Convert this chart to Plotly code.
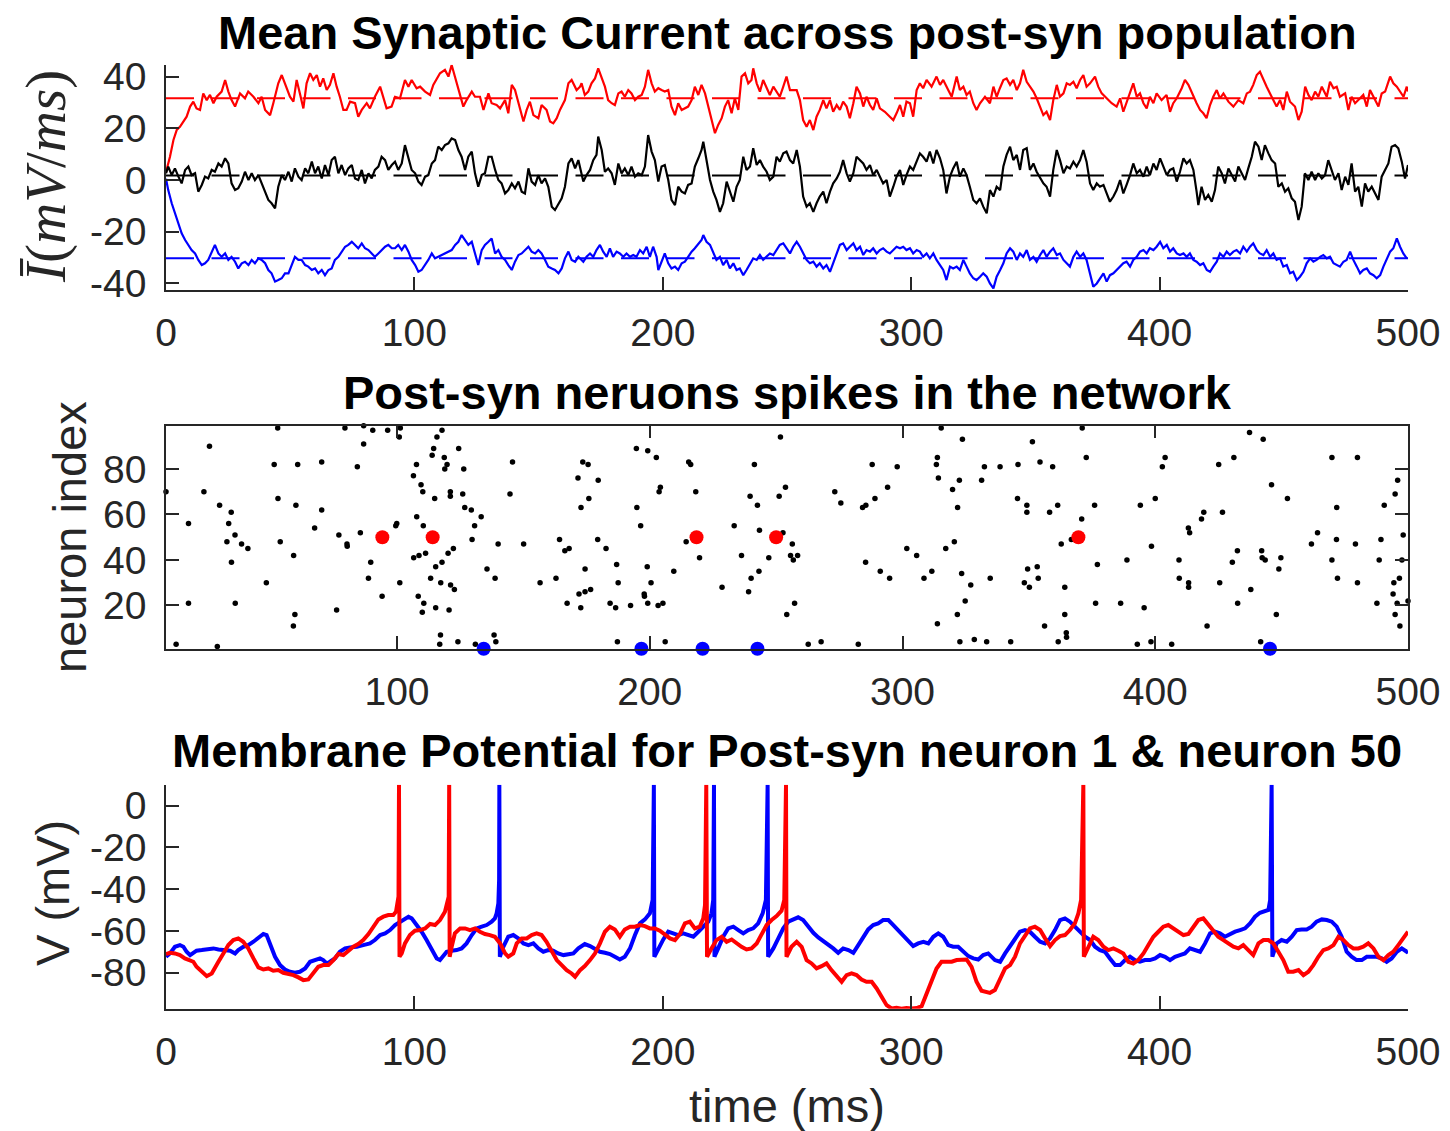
import plotly.graph_objects as go

# ---------------- top panel: mean synaptic current (mV/ms) ----------------
red_t = [0, 1.6, 3.0, 4.3, 5.6, 7.0, 8.3, 9.7, 11.0, 12.3, 13.7, 15.0, 16.4, 17.7, 19.1, 20.4, 22.4, 23.8, 25.1, 26.4,
         27.8, 29.8, 31.8, 33.1, 35.2, 37.2, 38.5, 39.9, 41.9, 43.2, 45.2, 46.6, 47.9, 49.9, 51.3, 52.6, 53.9, 55.3, 56.6, 58.0,
         59.3, 60.7, 62.0, 63.3, 64.7, 66.0, 67.4, 68.7, 70.0, 71.4, 72.7, 74.1, 76.1, 77.4, 78.8, 80.8, 82.1, 84.1, 86.2, 87.5,
         88.8, 90.8, 92.2, 94.2, 96.2, 97.6, 98.9, 100.9, 102.3, 104.3, 106.3, 107.6, 109.0, 110.3, 112.3, 113.7, 115.0, 116.3, 117.7, 119.7,
         121.0, 123.1, 124.4, 126.4, 127.8, 129.8, 131.1, 133.1, 134.5, 136.5, 137.8, 139.2, 140.5, 141.8, 143.9, 145.2, 146.5, 147.9, 149.9, 151.2,
         153.2, 154.6, 155.9, 157.3, 158.6, 160.6, 162.0, 163.3, 165.3, 166.7,
         167.3, 168.6, 170.0, 171.3, 172.7, 174.0, 175.4, 176.7, 178.0, 179.4, 180.7, 182.1, 183.4, 184.7, 186.1, 187.4, 188.8, 190.1, 191.5, 192.8,
         194.1, 195.5, 196.8, 198.2, 199.5, 200.8, 202.2, 203.5, 204.9, 206.2, 207.6, 208.9, 210.2, 211.6, 212.9, 214.3, 215.6, 217.0, 218.3, 219.6,
         221.0, 222.3, 223.7, 225.0, 226.3, 227.7, 229.0, 230.4, 231.7, 233.1, 234.4, 235.7, 236.4, 237.8, 239.1, 240.4, 241.8, 243.1, 244.5, 245.8,
         247.1, 248.5, 249.8, 251.2, 252.5, 253.9, 255.2, 256.5, 257.9, 259.2, 260.6, 261.9, 263.2, 264.6, 265.9, 267.3, 268.6, 270.0, 271.3, 272.6,
         274.0, 275.3, 276.7, 278.0, 279.4, 280.7, 282.0, 283.4, 284.7, 286.1, 287.4, 289.4, 291.4, 292.8, 294.1, 295.5, 296.8, 298.1, 299.5, 300.8,
         302.2, 303.5, 304.8, 306.2, 308.2, 310.2, 311.6, 312.9, 314.9, 316.3, 318.3, 319.6, 321.0, 322.3, 323.6, 325.0, 326.3, 327.7, 329.7, 331.7,
         333.1, 334.4, 335.7, 337.1, 338.4, 339.8, 341.1, 342.5, 343.8, 345.1, 346.5, 347.8, 349.2, 350.5, 351.9, 353.2, 354.5, 355.9, 357.2, 358.6,
         359.9, 361.3, 362.6, 363.9, 365.3, 366.6, 368.0, 369.3, 370.6, 372.0, 374.0, 375.3, 376.7, 378.7, 380.7, 382.7, 384.1, 385.4, 387.4, 389.4,
         390.8, 392.1, 393.5, 394.8, 396.1, 397.5, 398.8, 400.8, 402.8, 404.2, 405.5, 406.9, 408.9, 410.2, 411.6, 413.6, 414.9, 416.3, 417.6, 418.9,
         420.3, 421.6, 423.0, 424.3, 425.7, 427.7, 429.7, 431.7, 433.7, 435.1, 436.4, 437.7, 439.1, 440.4, 441.8, 443.1, 445.1, 447.1, 448.5, 449.8,
         451.2, 452.5, 454.5, 455.9, 457.2, 458.6, 459.9, 461.2, 462.6, 463.9, 465.3, 467.3, 468.6, 470.0, 471.3, 472.6, 474.7, 476.0, 477.3, 478.7,
         480.7, 482.0, 483.4, 484.7, 486.1, 488.1, 489.4, 490.8, 492.8, 494.1, 495.5, 496.8, 498.2, 499.5, 500.0]
red_v = [3, 9.0, 15.5, 19.3, 20.6, 22.6, 24.5, 28.4, 30.3, 27.7, 27.1, 33.5, 30.9, 32.9, 29.7, 32.2, 34.2, 38.7, 34.2, 30.9,
         28.4, 33.5, 31.6, 34.2, 32.2, 29.7, 32.2, 27.1, 25.1, 29.7, 37.4, 40.6, 37.4, 32.2, 30.3, 38.7, 33.5, 27.7, 37.4, 41.3,
         38.7, 40.6, 36.1, 39.3, 34.8, 36.8, 41.3, 36.1, 32.2, 27.1, 27.1, 30.3, 29.7, 24.5, 27.1, 29.7, 27.7, 32.2, 36.1, 32.2,
         27.7, 28.4, 32.2, 31.6, 38.7, 36.1, 38.7, 35.5, 36.1, 34.2, 32.9, 36.8, 39.3, 41.3, 42.6, 40.0, 44.5, 40.0, 34.8, 28.4,
         30.9, 34.2, 32.2, 32.2, 27.1, 33.5, 29.7, 29.0, 27.7, 30.9, 25.8, 36.8, 34.8, 29.7, 22.6, 27.1, 30.3, 25.1, 23.9, 29.0,
         27.1, 22.6, 21.9, 23.9, 27.1, 30.9, 37.4, 38.7, 34.8, 36.1,
         37.4, 32.9, 34.2, 37.4, 39.3, 43.2, 39.3, 36.1, 30.9, 29.7, 29.0, 33.5, 34.2, 32.2, 34.8, 33.5, 30.9, 32.2, 32.9, 36.1,
         42.6, 37.4, 34.2, 35.5, 34.8, 34.2, 34.8, 28.4, 25.1, 29.7, 27.1, 27.7, 28.4, 30.9, 36.1, 32.9, 36.8, 33.5, 28.4, 24.5,
         18.1, 21.3, 23.9, 28.4, 30.9, 25.8, 31.6, 27.1, 40.0, 41.3, 37.4, 38.7, 43.2, 37.4, 34.2, 38.7, 35.5, 32.9, 36.1, 34.2,
         32.2, 36.1, 40.0, 34.8, 34.8, 34.8, 30.9, 23.2, 20.6, 23.2, 19.3, 24.5, 27.1, 30.9, 27.7, 30.9, 26.4, 29.0, 27.1, 30.3,
         28.4, 23.9, 29.7, 36.1, 33.5, 28.4, 32.2, 29.0, 27.1, 31.6, 27.7, 26.4, 24.5, 23.2, 25.8, 29.0, 24.5, 30.3, 29.7, 24.5,
         34.8, 37.4, 35.5, 38.7, 36.1, 40.0, 36.8, 38.7, 34.8, 32.2, 40.0, 34.8, 36.1, 32.9, 34.2, 29.7, 27.1, 29.7, 32.2, 29.7,
         36.1, 32.2, 35.5, 38.7, 39.3, 36.8, 38.7, 34.8, 37.4, 42.6, 38.0, 36.1, 34.2, 31.6, 28.4, 25.1, 26.4, 23.2, 30.9, 36.8,
         32.2, 33.5, 37.4, 36.8, 38.0, 35.5, 38.7, 40.6, 36.1, 37.4, 40.0, 36.1, 33.5, 31.6, 29.7, 28.4, 31.6, 26.4, 32.2, 37.4,
         32.2, 33.5, 29.7, 27.7, 32.2, 29.7, 33.5, 30.9, 32.9, 26.4, 29.7, 31.6, 35.5, 38.7, 36.8, 32.2, 29.7, 27.1, 25.8, 23.9,
         29.0, 32.2, 34.8, 31.6, 33.5, 30.3, 28.4, 30.9, 29.7, 33.5, 34.2, 36.8, 40.6, 41.9, 38.7, 36.1, 32.2, 28.4, 30.9, 27.1,
         34.2, 30.3, 28.4, 23.2, 26.4, 36.1, 32.9, 30.9, 34.2, 32.2, 36.1, 32.2, 38.0, 35.5, 36.1, 32.2, 33.5, 27.1, 32.2, 29.7,
         31.6, 32.9, 28.4, 34.8, 32.2, 28.4, 33.5, 34.2, 40.0, 37.4, 36.1, 34.2, 32.2, 36.1, 34.2]

black_t = [0, 0.9, 2.3, 3.6, 5.0, 6.3, 7.7, 9.0, 10.3, 11.7, 13.0, 14.4, 15.7, 17.0, 18.4, 19.7, 21.1, 22.4, 23.8, 25.1,
           26.4, 27.8, 29.1, 30.5, 31.8, 33.2, 34.5, 35.8, 37.2, 38.5, 39.9, 41.2, 42.5, 43.9, 45.2, 46.6, 47.9, 49.3, 50.6, 51.9,
           53.3, 54.6, 56.0, 57.3, 58.7, 60.0, 61.3, 62.7, 64.0, 65.4, 66.7, 68.0, 69.4, 70.7, 72.1, 73.4, 74.8, 76.1, 77.4, 78.8,
           80.1, 81.5, 82.8, 84.1, 85.5, 86.8, 88.2, 89.5, 90.9, 92.2, 93.5, 94.9, 96.2, 97.6, 98.9, 100.3, 101.6, 102.9, 104.3, 105.6,
           107.0, 108.3, 109.6, 111.0, 112.3, 113.7, 115.0, 116.4, 117.7, 119.0, 120.4, 121.7, 123.1, 124.4, 125.7, 127.1, 128.4, 129.8, 131.1, 132.5,
           133.8, 135.1, 136.5, 137.8, 139.2, 140.5, 141.9, 143.2, 144.5, 145.9, 147.2, 148.6, 149.9, 151.2, 152.6, 153.9, 155.3, 156.6, 158.0, 159.3,
           160.6, 162.0, 163.3, 164.7, 166.0,
           168.0, 169.3, 170.7, 172.0, 173.3, 174.0, 175.4, 176.7, 178.0, 179.4, 180.7, 182.1, 183.4, 184.7, 186.1, 187.4, 188.8, 190.1, 191.5, 192.8,
           194.1, 195.5, 196.8, 198.2, 199.5, 200.8, 202.2, 203.5, 204.9, 206.2, 207.6, 208.9, 210.2, 211.6, 212.9, 214.3, 215.6,
           216.3, 217.6, 219.0, 220.3, 221.6, 223.0, 224.3, 225.7, 227.0, 228.4, 229.7, 231.0, 232.4, 233.7, 235.1, 236.4, 237.8, 239.1, 240.4, 241.8,
           243.1, 244.5, 245.8, 247.1, 248.5, 249.8, 251.2, 252.5, 253.9, 255.2, 256.5, 257.9, 259.2, 260.6, 261.9, 263.2, 264.6, 265.9, 267.3, 268.6,
           270.0, 271.3, 272.6, 274.0, 275.3, 276.7, 278.0, 279.4, 280.7, 282.0, 283.4, 284.7, 286.1, 287.4, 288.7, 290.1, 291.4, 292.8, 294.1, 295.5,
           296.8, 298.1, 299.5, 300.8, 302.2, 303.5, 304.8, 306.2, 307.5, 308.9, 310.2, 311.6, 312.9, 314.2, 315.6, 316.9, 318.3, 319.6, 321.0, 322.3,
           323.6, 325.0, 326.3, 327.7, 329.0,
           330.4, 331.7, 333.1, 334.4, 335.8, 337.1, 338.4, 339.8, 341.1, 342.5, 343.8, 345.1, 346.5, 347.8, 349.2, 350.5, 351.9, 353.2, 354.5, 355.9,
           357.2, 358.6, 359.9, 361.3, 362.6, 363.9, 365.3, 366.6, 368.0, 369.3, 370.6, 372.0, 373.3, 374.7, 376.0, 377.4, 378.7, 380.0, 381.4, 382.7,
           384.1, 385.4, 386.7, 388.1, 389.4, 390.8, 392.1, 393.5, 394.8, 396.1, 397.5, 398.8, 400.2, 401.5, 402.9, 404.2, 405.5, 406.9, 408.2, 409.6,
           410.9, 412.2, 413.6, 414.9,
           415.6, 416.9, 418.3, 419.6, 421.0, 422.3, 423.6, 425.0, 426.3, 427.7, 429.0, 430.4, 431.7, 433.0, 434.4, 435.7, 437.1, 438.4, 439.8, 441.1,
           442.4, 443.8, 445.1, 446.5, 447.8, 449.2, 450.5, 451.8, 453.2, 454.5, 455.9, 457.2, 458.5, 459.9, 461.2, 462.6, 463.9, 465.3, 466.6, 467.9,
           469.3, 470.6, 472.0, 473.3, 474.7, 476.0, 477.3, 478.7, 480.0, 481.4, 482.7, 484.0, 485.4, 486.7, 488.1, 489.4, 490.8, 492.1, 493.4, 494.8,
           496.1, 497.5, 498.8, 500.0]
black_v = [2.6, 5.2, 1.9, 4.5, 1.3, -1.3, 3.9, 5.2, 1.9, 2.6, -4.5, -1.9, 1.3, 0.6, 3.9, 3.2, 6.4, 5.2, 8.4, 6.4,
           -1.3, -3.9, -3.2, -0.6, 3.2, 0, 2.6, 0, 1.9, -1.3, -4.5, -7.7, -9.0, -11.0, -2.6, 1.9, 0, 3.2, -0.6, 4.5,
           1.3, 0, 4.5, 2.6, 7.1, 2.6, 5.2, 0.6, 5.8, 1.9, 7.7, 9.0, 2.6, 5.8, 1.9, 4.5, 5.8, 0.6, 0, 3.9,
           -1.3, 2.6, 0.6, 3.9, 5.2, 9.0, 7.7, 3.9, 5.8, 7.1, 3.9, 6.4, 13.5, 9.0, 3.9, 2.6, -0.6, -1.9, 1.3, 1.9,
           6.4, 7.7, 12.9, 11.6, 13.5, 14.2, 16.1, 15.5, 11.6, 9.0, 3.9, 9.0, 11.0, 2.6, -2.6, 1.9, 2.6, 9.0, 9.0, 3.9,
           0, -1.3, -5.2, -3.9, -1.3, -3.2, -0.6, -4.5, -5.2, 4.5, -0.6, -1.9, 1.9, -1.3, 0.6, -2.6, -10.3, -11.6, -9.0, -7.1,
           -2.6, 6.4, 8.4, 4.5, 7.7,
           -0.6, 1.9, 3.9, 7.7, 9.7, 16.8, 11.6, 3.2, 4.5, 2.6, -1.9, 6.4, 2.6, 4.5, 1.9, 5.2, 1.3, 2.6, 1.9, 5.2,
           17.4, 11.0, 7.7, -0.6, 5.2, 5.8, 0, -7.7, -9.7, -2.6, -4.5, -5.2, -1.9, -1.3, 5.2, 8.4, 11.6,
           14.8, 7.7, 0, -4.5, -7.7, -12.3, -9.0, -0.6, -4.5, -8.4, -2.6, 0, 9.0, 3.9, 5.2, 12.3, 5.8, 7.7, 5.2, 3.2,
           0, 1.3, 9.0, 7.1, 10.3, 11.0, 7.7, 6.4, 11.6, 5.2, -6.4, -10.3, -9.0, -12.3, -9.0, -6.4, -4.5, -9.0, -4.5, -1.3,
           0.6, 3.2, 7.7, 2.6, -0.6, 2.6, 9.0, 7.7, 6.4, 3.9, 5.8, 1.9, 3.9, 1.3, -1.3, 0, -6.4, -2.6, 1.3, 3.9,
           -1.9, 1.9, 5.2, 3.9, 7.1, 10.3, 9.0, 7.1, 11.0, 6.4, 11.6, 8.4, 3.9, -5.2, 1.3, 4.5, 7.1, 1.3, 4.5, 1.9,
           -2.6, -7.7, -9.0, -7.1, -10.3,
           -12.9, -3.9, -6.4, -2.6, -3.9, 5.2, 9.7, 12.9, 7.7, 9.7, 3.9, 11.6, 12.3, 3.9, 6.4, 3.2, 0.6, -1.3, -2.6, -6.4,
           3.9, 11.6, 7.7, 2.6, 5.2, 4.5, 7.1, 5.2, 7.7, 11.6, 7.1, -1.3, -3.9, -1.3, -2.6, -1.9, -5.2, -8.4, -6.4, -3.9,
           0, -5.2, -1.9, 1.9, 6.4, 2.6, 3.9, 1.3, 5.2, 1.9, 6.4, 3.9, 8.4, 5.2, 1.9, 3.9, 4.5, -0.6, 3.2, 8.4,
           6.4, 7.7, 3.9, -4.5,
           -9.7, -2.6, -7.7, -5.8, -8.4, -3.9, 5.2, 2.6, -1.3, 4.5, 1.9, -0.6, 5.2, 2.6, 0, 4.5, 9.0, 14.8, 12.9, 7.7,
           13.5, 10.3, 7.7, 6.4, -2.6, -1.3, -4.5, -3.2, -7.1, -8.4, -15.5, -10.3, 2.6, 0, 3.2, 0, 2.6, 0.6, 1.9, 7.7,
           3.9, 0, 2.6, -3.9, 1.3, -1.9, 6.4, -4.5, -2.6, -10.3, -1.3, -4.5, -2.6, -5.2, -7.7, 1.3, 3.9, 6.4, 12.9, 13.5,
           12.3, 7.1, 0.6, 5.8]

blue_t = [0, 0.9, 2.3, 3.6, 5.0, 6.3, 7.7, 9.0, 10.3, 11.7, 13.0, 14.4, 15.7, 17.0, 18.4, 19.7, 21.1, 22.4, 23.8, 25.1,
          26.4, 27.8, 29.1, 30.5, 31.8, 33.2, 34.5, 35.8, 37.2, 38.5, 39.9, 41.2, 42.5, 43.9, 45.2, 46.6, 47.9, 49.3, 50.6, 51.9,
          53.3, 54.6, 56.0, 57.3, 58.7, 60.0, 61.3, 62.7, 64.0, 65.4, 66.7, 68.0, 69.4, 70.7, 72.1, 73.4, 74.8, 76.1, 77.4, 78.8,
          80.1, 81.5, 82.8, 84.1, 85.5, 86.8, 88.2, 89.5, 90.9, 92.2, 93.5, 94.9, 96.2, 97.6, 98.9, 100.3, 101.6, 102.9, 104.3, 105.6,
          107.0, 108.3, 109.6, 111.0, 112.3, 113.7, 115.0, 116.4, 117.7, 119.0, 120.4, 121.7, 123.1, 124.4, 125.7, 127.1, 128.4, 129.8, 131.1, 132.5,
          133.8, 135.1, 136.5, 137.8, 139.2, 140.5, 141.9, 143.2, 144.5, 145.9, 147.2, 148.6, 149.9, 151.2, 152.6, 153.9, 155.3, 156.6, 158.0, 159.3,
          160.6, 162.0, 163.3, 164.7, 166.0,
          168.0, 169.3, 170.7, 172.0, 173.3, 174.7, 176.0, 177.4, 178.7, 180.0, 181.4, 182.7, 184.1, 185.4, 186.8, 188.1, 189.4, 190.8, 192.1, 193.5,
          194.8, 196.1, 197.5,
          198.2, 199.5, 200.8, 202.2, 203.5, 204.9, 206.2, 207.6, 208.9, 210.2, 211.6, 212.9, 214.3, 215.6, 216.3,
          217.6, 219.0, 220.3, 221.6, 223.0, 224.3, 225.7, 227.0, 228.4, 229.7, 231.0, 232.4, 233.7, 235.1, 236.4, 237.8, 239.1, 240.4, 241.8,
          243.1, 244.5, 245.8, 247.1, 248.5, 249.8, 251.2, 252.5, 253.9, 255.2, 256.5, 257.9, 259.2, 260.6, 261.9, 263.2, 264.6, 265.9, 267.3, 268.6,
          270.0, 271.3, 272.6, 274.0, 275.3, 276.7, 278.0, 279.4, 280.7, 282.0, 283.4, 284.7, 286.1, 287.4, 288.7, 290.1, 291.4, 292.8, 294.1, 295.5,
          296.8, 298.1, 299.5, 300.8, 302.2, 303.5, 304.8, 306.2, 307.5, 308.9, 310.2, 311.6, 312.9, 314.2, 315.6, 316.9, 318.3, 319.6, 321.0, 322.3,
          323.6, 325.0, 326.3, 327.7, 329.0,
          330.4, 331.7, 333.1, 334.4, 335.8, 337.1, 338.4, 339.8, 341.1, 342.5, 343.8, 345.1, 346.5, 347.8, 349.2, 350.5, 351.9, 353.2, 354.5, 355.9,
          357.2, 358.6, 359.9, 361.3, 362.6, 363.9, 365.3, 366.6, 368.0, 369.3, 370.6, 372.0, 373.3, 374.7, 376.0, 377.4, 378.7, 380.0, 381.4, 382.7,
          384.1, 385.4, 386.7, 388.1, 389.4, 390.8, 392.1, 393.5, 394.8, 396.1, 397.5, 398.8, 400.2, 401.5, 402.9, 404.2, 405.5, 406.9, 408.2, 409.6,
          410.9, 412.2, 413.6, 414.9,
          416.3, 417.6, 419.0, 420.3, 421.6, 423.0, 424.3, 425.7, 427.0, 428.3, 429.7, 431.0, 432.4, 433.7, 435.1, 436.4, 437.7, 439.1, 440.4, 441.8,
          443.1, 444.5, 445.8, 447.1, 448.5, 449.8, 451.2, 452.5, 453.8, 455.2, 456.5, 457.9, 459.2, 460.6, 461.9, 463.2, 464.6, 465.9, 467.3, 468.6,
          470.0, 471.3, 472.6, 474.0, 475.3, 476.7, 478.0, 479.4, 480.7, 482.0, 483.4, 484.7, 486.1, 487.4, 488.8, 490.1, 491.4, 492.8, 494.1, 495.5,
          496.8, 498.1, 499.5]
blue_v = [0.5, -3.9, -9.0, -12.9, -16.8, -20.6, -23.2, -25.1, -27.1, -28.4, -30.9, -32.9, -32.2, -30.9, -27.7, -25.1, -28.4, -29.7, -28.4, -30.9,
          -29.7, -31.6, -34.2, -32.2, -31.6, -32.9, -30.9, -32.2, -30.3, -30.9, -32.2, -34.8, -36.1, -39.3, -38.7, -38.0, -36.1, -36.1, -32.9, -29.7,
          -30.9, -30.9, -32.9, -33.5, -34.8, -34.2, -36.1, -34.8, -36.8, -34.8, -34.2, -30.9, -29.7, -27.7, -25.8, -25.1, -23.9, -25.1, -26.4, -24.5,
          -26.4, -27.1, -28.4, -29.7, -28.4, -27.1, -25.8, -25.1, -26.4, -26.4, -25.1, -27.1, -25.1, -27.7, -30.9, -32.9, -35.5, -34.8, -32.9, -30.9,
          -28.4, -30.3, -29.7, -29.0, -28.4, -27.7, -27.1, -25.1, -23.9, -21.3, -23.2, -25.1, -23.9, -29.0, -32.9, -27.1, -25.1, -23.9, -22.6, -28.4,
          -27.1, -29.7, -30.9, -32.9, -34.8, -31.6, -29.0, -28.4, -27.1, -25.8, -27.7, -28.4, -27.1, -28.4, -30.9, -33.5, -34.2, -34.8, -36.1, -34.2,
          -30.3, -27.7, -30.9, -31.6, -29.7,
          -31.6, -29.7, -28.4, -29.7, -27.1, -25.1, -27.7, -29.7, -26.4, -29.7, -27.7, -28.4, -29.7, -28.4, -29.7, -29.0, -29.7, -27.1, -28.4, -25.8,
          -29.7, -25.8, -29.7,
          -34.8, -31.6, -28.4, -32.2, -34.2, -33.5, -34.8, -32.2, -31.6, -29.7, -27.7, -26.4, -24.5, -23.2, -21.3,
          -23.9, -25.1, -28.4, -30.9, -29.7, -32.9, -30.9, -34.2, -32.2, -34.8, -34.2, -36.8, -34.8, -32.2, -30.3, -30.9, -29.0, -30.9, -29.7,
          -28.4, -29.0, -27.1, -25.1, -24.5, -26.4, -28.4, -25.8, -23.9, -25.8, -28.4, -30.9, -32.2, -31.6, -33.5, -32.2, -34.2, -32.9, -35.5, -32.2,
          -28.4, -25.1, -24.5, -27.1, -25.8, -24.5, -27.1, -25.8, -29.0, -27.1, -27.7, -26.4, -28.4, -27.1, -26.4, -27.7, -28.4, -27.1, -25.8, -26.4,
          -25.8, -27.1, -26.4, -28.4, -27.1, -27.7, -29.7, -28.4, -30.3, -28.4, -30.9, -32.9, -34.8, -38.7, -33.5, -34.2, -33.5, -34.8, -30.9, -33.5,
          -36.1, -38.0, -38.7, -37.4, -36.1,
          -37.4, -40.0, -41.9, -37.4, -34.8, -32.2, -28.4, -26.4, -27.7, -30.9, -28.4, -29.7, -27.1, -30.9, -29.7, -31.6, -29.0, -27.1, -29.7, -27.7,
          -26.4, -29.0, -28.4, -30.9, -32.2, -33.5, -29.7, -27.7, -29.7, -28.4, -30.9, -36.1, -41.3, -40.0, -38.0, -36.1, -39.3, -36.8, -36.1, -34.8,
          -33.5, -32.2, -31.6, -33.5, -30.9, -29.7, -27.7, -27.1, -28.4, -26.4, -27.1, -25.8, -23.9, -26.4, -25.1, -27.7, -26.4, -28.4, -29.0, -28.4,
          -29.7, -28.4, -30.9, -31.6,
          -32.9, -32.2, -34.8, -35.5, -33.5, -31.6, -28.4, -29.7, -27.7, -29.0, -27.7, -27.1, -28.4, -25.8, -27.7, -25.8, -24.5, -27.1, -28.4, -29.0,
          -27.1, -29.7, -28.4, -30.9, -30.3, -33.5, -32.9, -36.1, -35.5, -38.7, -37.4, -35.5, -32.2, -30.3, -31.6, -30.9, -29.7, -29.0, -30.3, -29.7,
          -32.2, -32.9, -33.5, -31.6, -30.9, -27.7, -30.9, -33.5, -36.1, -34.8, -34.2, -36.1, -36.8, -38.0, -36.8, -33.5, -30.9, -27.7, -26.4, -22.6,
          -25.8, -28.4, -30.3]

mean_levels = [31.6, 1.7, -30.3]          # red, black, blue dashed references
mean_colors = ["#ff0000", "#000000", "#0000ff"]

# ---------------- middle panel: raster of post-syn spikes ----------------
spike_t = [8.6, 12.6, 17.5, 17.5, 23.6, 25.8, 28.9, 29.8, 32.7, 33.4, 34.4, 34.5, 35.9, 36.0, 38.5, 41.0, 48.3, 51.4, 52.8, 52.9,
           53.8, 59.0, 59.1, 59.6, 60.0, 60.7, 67.4, 70.2, 70.2, 76.1, 77.0, 79.4, 80.2, 80.3, 84.3, 85.5, 86.8, 86.8, 88.7, 89.6,
           90.4, 94.1, 96.3, 99.5, 99.9, 100.9, 101.1, 101.3, 106.5, 106.6, 107.7, 107.8, 108.4, 108.7, 109.5, 110.0, 110.2, 110.4, 110.6, 111.3,
           113.3, 113.9, 114.5, 114.9, 115.3, 115.3, 115.8, 116.9, 117.2, 117.3, 117.8, 117.8, 118.7, 118.9, 119.8, 120.2, 120.6, 121.1, 121.1, 121.2,
           122.3, 122.7, 124.1, 124.4, 126.0, 126.4, 126.8, 129.4, 129.7, 130.7, 131.0, 133.3, 135.6, 138.4, 138.8, 139.1, 140.0, 144.7, 145.7, 150.1,
           156.6, 162.9, 164.3, 166.4, 167.3, 168.1,
           171.6, 172.0, 172.7, 172.8, 173.5, 174.4, 174.4, 175.6, 175.9, 176.6, 179.4, 179.6, 182.7, 184.3, 186.5, 186.9, 187.2, 187.5, 192.4, 194.7,
           194.9, 196.4, 197.8, 197.9, 199.0, 199.2, 199.2, 200.5, 202.6, 203.3, 203.7, 204.2, 205.2, 206.1, 209.5, 214.4, 215.4, 216.2, 218.2, 219.7,
           228.6, 233.4, 236.3, 239.1, 239.7, 240.1, 241.4, 242.6, 243.2, 243.4, 247.1, 251.2, 251.7, 252.7, 253.7, 254.2, 255.7, 256.4, 256.8, 257.3,
           258.5, 262.7, 267.8, 273.2, 275.6, 282.5, 284.2, 285.4, 285.5, 288.0, 289.1, 291.2, 294.1, 294.9, 297.9, 301.7, 305.6, 308.5, 311.6, 313.4,
           313.8, 313.8, 314.2, 315.3, 317.1, 319.8, 320.5, 321.7, 321.8, 322.5, 322.7, 323.4, 323.7, 324.8, 327.0, 328.4,
           331.3, 332.4, 333.3, 334.7, 338.6, 342.8, 345.5, 345.7, 348.2, 349.2, 349.2, 349.5, 350.2, 351.4, 353.3, 353.7, 354.4, 356.2, 358.2, 359.4,
           361.4, 361.6, 362.8, 364.2, 364.2, 364.8, 364.9, 366.8, 370.9, 371.1, 372.7, 376.0, 376.4, 377.1, 386.3, 388.8, 392.9, 394.1, 395.6, 398.3,
           398.5, 400.0, 402.8, 403.9, 406.5, 409.4, 409.5, 413.1, 413.2, 413.2, 413.6, 418.3, 419.2, 420.5, 425.1, 425.5, 426.6, 430.5, 431.1, 432.5,
           432.6, 437.3, 437.8, 441.7, 442.1, 442.3, 442.7, 443.5, 446.0, 447.9, 448.9, 449.7, 452.3, 461.8, 464.2, 469.9, 469.9, 471.7, 471.8, 472.1,
           479.2, 480.0, 480.0, 487.7, 488.6, 489.3, 490.6, 494.1, 494.4, 494.9, 494.9, 495.7, 495.9, 496.6, 496.8, 497.6, 498.1, 500.0]
spike_n = [70, 3, 56, 21, 70, 90, 2, 64, 48, 56, 61, 39, 51, 21, 47, 45, 30, 82, 98, 67,
           48, 11, 42, 16, 64, 82, 54, 83, 62, 18, 51, 98, 47, 46, 81, 52, 99, 91, 32, 39,
           97, 24, 97, 55, 56, 94, 30, 98, 77, 41, 82, 59, 24, 42, 73, 17, 70, 55, 21, 43,
           32, 86, 89, 67, 37, 19, 94, 3, 7, 30, 97, 39, 85, 80, 82, 43, 18, 70, 68, 29,
           45, 27, 4, 89, 69, 80, 63, 62, 49, 55, 3, 59, 36, 7, 32, 4, 47, 69, 83, 47,
           30, 32, 49, 44, 21, 45,
           76, 25, 19, 63, 83, 36, 26, 82, 67, 27, 49, 75, 45, 21, 19, 38, 4, 30, 20, 89,
           63, 55, 25, 24, 37, 21, 88, 30, 85, 20, 70, 72, 21, 4, 35, 48, 83, 82, 70, 41,
           28, 55, 42, 26, 68, 32, 82, 64, 35, 53, 41, 68, 94, 52, 72, 16, 42, 47, 40, 21,
           42, 3, 4, 70, 65, 3, 63, 39, 64, 82, 67, 35, 72, 32, 81, 45, 42, 32, 35, 82,
           85, 12, 76, 98, 45, 71, 48, 16, 63, 75, 4, 34, 93, 22, 29, 5,
           75, 81, 4, 32, 81, 4, 67, 82, 30, 64, 61, 36, 28, 92, 37, 32, 83, 11, 61, 81,
           64, 4, 47, 28, 16, 8, 6, 49, 58, 98, 85, 64, 21, 38, 21, 40, 3, 64, 19, 4,
           46, 67, 81, 85, 3, 40, 32, 54, 30, 28, 52, 58, 61, 11, 82, 30, 61, 39, 85, 44,
           21, 96, 27, 4, 44, 41, 93, 40, 73, 16, 36, 41, 67, 47, 52, 85, 40, 49, 63, 32,
           47, 85, 30, 21, 40, 49, 64, 25, 30, 16, 69, 21, 75, 32, 11, 40, 51, 22]

# highlighted neurons: 50 (red) and 1 (blue)
n50_spikes = [94.2, 114.1, 218.5, 250.0, 369.6]
n1_spikes = [134.3, 196.7, 220.9, 242.6, 445.4]

# ---------------- bottom panel: membrane potential (mV) ----------------
v1_t = [0, 1.6, 3.6, 5.6, 7.0, 8.3, 9.7, 11.0, 12.3, 14.4, 16.4, 19.1, 21.1, 23.1, 25.8, 27.8, 29.1, 31.1, 33.1, 35.2,
        37.2, 39.2, 40.5, 41.9, 43.9, 45.9, 47.9, 49.9, 51.9, 53.9, 56.0, 58.0, 60.0, 62.0, 63.3, 64.7, 66.0, 68.0, 70.0, 72.1,
        74.1, 76.8, 79.4, 82.1, 84.1, 86.2, 88.2, 90.2, 92.2, 94.2, 96.2, 97.6, 98.9, 100.9, 102.9, 104.9, 107.0, 109.0, 110.3, 111.6,
        113.0, 115.0, 117.0, 119.0, 121.0, 123.1, 125.1, 127.1, 129.1, 131.1, 132.4, 133.1, 133.8, 134.1, 134.2, 134.4, 135.8, 137.8, 139.8, 141.8,
        143.9, 145.9, 147.9, 149.9, 151.9, 153.9, 155.9, 157.9, 160.0, 162.0, 164.0, 166.0,
        168.6, 170.7, 172.7, 174.7, 176.7, 178.7, 180.7, 182.7, 184.7, 186.8, 188.8, 190.8, 192.8, 194.8, 195.9, 196.4, 196.6, 198.2, 200.2, 202.2,
        204.2, 206.2, 208.2, 210.2, 212.3, 214.3, 216.3, 218.3, 219.6, 220.3, 220.6, 220.8, 222.3, 224.3, 226.3, 228.4, 230.4, 232.4, 234.4, 236.4,
        238.4, 240.2, 241.5, 242.2, 242.4, 244.5, 246.5, 248.5, 250.5, 252.5, 254.5, 256.5, 258.5, 260.6, 262.6, 264.6, 266.6, 268.6, 270.6, 272.6,
        274.7, 276.7, 278.7, 280.7, 282.7, 284.7, 286.7, 288.7, 290.8, 292.8, 294.8, 296.8, 298.8, 300.8, 302.8, 304.9, 306.9, 308.9, 310.9, 312.9,
        314.9, 316.9, 318.9, 320.9, 323.0, 325.0, 327.0, 329.0, 331.0,
        333.7, 335.8, 337.8, 339.8, 341.8, 343.8, 345.8, 347.8, 349.8, 351.9, 353.9, 355.9, 357.9, 359.9, 361.9, 363.9, 365.9, 368.0, 370.0, 372.0,
        374.0, 376.0, 378.0, 380.0, 382.1, 384.1, 386.1, 388.1, 390.1, 392.1, 394.1, 396.1, 398.2, 400.2, 402.2, 404.2, 406.2, 408.2, 410.2, 412.2,
        414.3, 416.3, 418.3, 420.3, 422.3, 424.3, 426.3, 428.4, 430.4, 432.4, 434.4, 436.4, 438.4, 440.4, 442.4, 443.8, 444.5, 445.1, 445.4, 447.1,
        449.1, 451.2, 453.2, 455.2, 457.2, 459.2, 461.2, 463.2, 465.3, 467.3, 469.3, 471.3, 473.3, 475.3, 477.3, 479.3, 481.4, 483.4, 485.4, 487.4,
        489.4, 491.4, 493.4, 495.5, 497.5, 499.5, 500.0]
v1_v = [-72.4, -70.8, -67.6, -66.8, -67.6, -70.0, -71.6, -70.8, -69.5, -69.2, -68.9, -68.4, -68.9, -69.2, -69.5, -70.8, -69.2, -67.6, -66.8, -65.2,
        -63.6, -61.5, -62.0, -66.0, -72.4, -76.4, -78.5, -79.6, -80.1, -79.6, -78.0, -74.8, -74.0, -73.2, -74.0, -75.6, -74.8, -73.2, -70.0, -68.4,
        -67.9, -67.6, -66.8, -66.0, -64.4, -62.0, -61.2, -59.6, -57.2, -55.6, -54.0, -53.2, -54.0, -57.2, -60.4, -64.4, -69.2, -73.2, -74.0, -72.4,
        -70.0, -69.5, -69.2, -68.4, -66.0, -62.0, -58.8, -58.0, -57.2, -55.6, -54.0, -51.6, -46.8, -35.6, 10.0, -72.4, -67.6, -62.8, -62.0, -63.6,
        -66.0, -66.8, -66.0, -68.4, -70.0, -69.2, -69.5, -70.8, -71.6, -71.1, -70.8, -68.4,
        -66.3, -67.3, -68.4, -70.0, -70.5, -71.1, -72.4, -73.7, -72.4, -68.4, -62.0, -56.4, -54.5, -51.6, -45.2, 10.0, -72.4, -68.4, -64.1, -60.4,
        -61.2, -62.0, -61.2, -62.0, -62.8, -60.4, -58.0, -55.6, -51.6, -45.2, 10.0, -72.4, -68.4, -62.8, -58.8, -58.0, -59.6, -61.2, -59.6, -58.8,
        -56.4, -51.6, -45.2, 10.0, -72.4, -68.4, -63.6, -58.8, -55.6, -54.5, -53.5, -54.8, -58.0, -60.9, -63.1, -64.7, -66.3, -68.4, -70.5, -68.4,
        -69.2, -70.5, -66.8, -62.8, -59.3, -57.2, -56.4, -54.8, -54.8, -57.2, -59.6, -62.0, -64.4, -67.3, -66.0, -65.2, -66.0, -62.8, -61.2, -62.8,
        -66.8, -67.6, -67.6, -70.0, -72.1, -73.2, -73.7, -71.6, -70.8,
        -74.0, -74.8, -70.8, -67.6, -64.4, -60.4, -59.6, -60.4, -62.8, -65.2, -66.0, -63.6, -59.6, -54.8, -54.0, -55.6, -58.0, -60.4, -62.8, -64.4,
        -67.6, -69.2, -70.0, -73.2, -76.4, -76.4, -74.0, -72.4, -74.0, -74.8, -74.0, -74.0, -73.2, -71.6, -72.4, -74.0, -72.4, -71.6, -70.8, -68.4,
        -69.2, -70.0, -66.0, -61.2, -60.4, -61.2, -62.8, -61.5, -60.4, -59.6, -58.8, -56.4, -53.2, -51.3, -50.3, -50.0, -45.2, 10.0, -72.4, -66.0,
        -64.4, -65.2, -62.8, -59.6, -59.3, -59.3, -58.0, -55.6, -54.5, -54.8, -55.6, -58.0, -62.8, -70.0, -72.4, -74.0, -74.0, -72.4, -72.4, -72.4,
        -73.2, -74.8, -73.2, -70.0, -68.4, -70.0, -69.6]

v50_t = [0, 1.6, 3.6, 5.6, 7.6, 9.7, 11.0, 12.3, 14.4, 16.4, 18.4, 19.7, 21.1, 23.1, 25.1, 27.1, 29.1, 31.1, 33.1, 35.2,
         37.2, 39.2, 41.2, 43.2, 45.2, 47.2, 49.2, 51.3, 53.3, 55.3, 57.3, 59.3, 61.3, 63.3, 65.4, 67.4, 69.4, 71.4, 73.4, 75.4,
         77.4, 79.4, 81.5, 83.5, 85.5, 87.5, 89.5, 91.5, 92.6, 93.6, 93.8, 94.0, 94.9, 96.2, 98.2, 100.2, 102.3, 104.3, 106.3, 108.3,
         110.3, 112.3, 113.8, 114.0, 114.2, 115.0, 116.3, 118.4, 120.4, 122.4, 124.4, 126.4, 128.4, 130.4, 132.4, 134.5, 136.5, 137.8, 139.8, 141.2,
         143.2, 145.2, 147.2, 149.2, 151.2, 153.2, 155.3, 157.3, 159.3, 161.3, 163.3, 164.7, 166.7,
         168.6, 170.7, 172.7, 174.7, 176.7, 178.7, 180.7, 182.7, 184.7, 186.8, 188.8, 190.8, 192.8, 194.8, 196.8, 198.8, 200.8, 202.9, 204.9, 206.9,
         208.9, 210.9, 212.9, 214.9, 216.3, 217.0, 217.5, 217.8, 219.6, 221.6, 223.7, 225.7, 227.7, 229.7, 231.7, 233.7, 235.7, 237.8, 239.8, 241.8,
         243.8, 245.8, 247.8, 248.9, 249.6, 249.8, 251.8, 253.9, 255.9, 257.9, 259.9, 261.9, 263.9, 265.9, 267.9, 270.0, 272.0, 274.0, 276.0, 278.0,
         280.0, 282.0, 284.1, 286.1, 288.1, 290.1, 292.1, 294.1, 296.1, 298.1, 300.2, 302.2, 304.2, 306.2, 308.2, 310.2, 312.2, 314.2, 316.3, 318.3,
         320.3, 322.3, 324.3, 326.3, 328.3, 330.3, 331.7,
         333.7, 335.8, 337.8, 339.8, 341.8, 343.8, 345.8, 347.8, 349.8, 351.9, 353.9, 355.9, 357.9, 359.9, 361.9, 363.9, 365.9, 367.3, 368.4, 369.3,
         369.5, 371.3, 373.3, 375.3, 377.4, 379.4, 381.4, 383.4, 385.4, 387.4, 389.4, 391.4, 393.5, 395.5, 397.5, 399.5, 401.5, 403.5, 405.5, 407.6,
         409.6, 411.6, 413.6, 415.6, 417.6, 419.6, 421.6, 423.6, 425.7, 427.7, 429.7, 431.7, 433.7, 435.7, 437.7, 439.8, 441.8, 443.8, 445.8, 447.8,
         449.8, 451.8, 453.8, 455.9, 457.9, 459.9, 461.9, 463.9, 465.9, 467.9, 470.0, 472.0, 474.0, 476.0, 478.0, 480.0, 482.0, 484.0, 486.1, 488.1,
         490.1, 492.1, 494.1, 496.1, 498.1, 500.0]
v50_v = [-71.1, -70.5, -70.8, -71.6, -73.2, -74.0, -74.8, -77.2, -79.6, -81.7, -80.4, -78.0, -74.8, -70.8, -66.8, -64.4, -63.6, -65.2, -68.4, -73.2,
         -77.5, -78.5, -78.0, -79.1, -78.8, -80.1, -80.7, -81.2, -82.3, -83.6, -83.3, -80.4, -77.2, -76.4, -76.4, -74.0, -71.1, -71.6, -69.5, -67.6,
         -66.3, -64.4, -61.5, -58.0, -54.5, -53.2, -52.4, -52.4, -50.8, -43.6, 10.0, -72.4, -70.8, -66.0, -62.0, -59.9, -59.6, -58.8, -56.7, -57.2,
         -54.8, -50.8, -43.6, 10.0, -72.4, -67.6, -61.2, -58.8, -58.8, -59.6, -58.8, -60.4, -61.5, -62.0, -62.8, -66.0, -70.8, -72.4, -70.8, -66.0,
         -63.6, -63.6, -62.0, -61.2, -62.0, -65.2, -70.0, -74.0, -76.4, -78.8, -80.4, -82.0, -78.8,
         -76.9, -74.0, -70.8, -66.0, -60.4, -58.0, -59.3, -62.8, -59.3, -58.0, -58.0, -57.2, -57.7, -58.8, -58.8, -59.9, -62.0, -63.6, -64.4, -61.5,
         -56.4, -55.6, -58.8, -58.0, -54.0, -47.6, 10.0, -72.4, -68.4, -64.4, -62.8, -65.2, -64.1, -66.0, -67.6, -68.9, -68.4, -66.0, -61.2, -57.2,
         -54.8, -52.9, -50.3, -45.2, 10.0, -72.4, -67.6, -65.2, -67.6, -74.0, -75.6, -78.0, -76.9, -75.6, -78.8, -82.0, -84.4, -81.2, -80.4, -81.2,
         -83.3, -84.4, -84.4, -87.6, -91.6, -95.6, -97.2, -96.9, -97.3, -97.0, -97.2, -97.0, -96.1, -90.0, -83.6, -78.0, -74.8, -74.8, -74.8, -74.0,
         -74.0, -73.7, -77.2, -84.4, -88.7, -89.2, -89.7,
         -88.4, -83.6, -78.0, -76.4, -72.4, -66.0, -62.0, -58.8, -58.0, -59.6, -63.6, -67.3, -64.4, -62.5, -62.0, -59.6, -56.4, -51.6, -45.2, 10.0,
         -72.4, -67.6, -62.8, -64.4, -67.6, -69.2, -68.4, -69.5, -70.8, -74.8, -75.6, -74.0, -70.8, -66.8, -62.8, -60.4, -58.0, -57.2, -58.8, -60.4,
         -62.0, -61.5, -58.0, -54.8, -54.0, -57.2, -60.4, -62.8, -64.4, -66.0, -67.6, -68.4, -66.8, -69.2, -71.6, -66.0, -64.4, -64.4, -66.0, -70.0,
         -74.0, -79.6, -79.6, -78.8, -81.2, -79.6, -76.4, -72.4, -69.2, -68.4, -66.8, -62.8, -64.4, -66.8, -68.4, -68.4, -67.6, -66.0, -68.4, -72.4,
         -74.0, -71.6, -70.0, -66.8, -63.6, -60.4]

for a, b in [(red_t, red_v), (black_t, black_v), (blue_t, blue_v), (spike_t, spike_n), (v1_t, v1_v), (v50_t, v50_v)]:
    assert len(a) == len(b), (len(a), len(b))

top_yticks = [-40, -20, 0, 20, 40]
mid_yticks = [20, 40, 60, 80]
bot_yticks = [-80, -60, -40, -20, 0]
time_ticks = [0, 100, 200, 300, 400, 500]
mid_xticks = [100, 200, 300, 400, 500]

SANS = "Liberation Sans, Arial, Helvetica, sans-serif"
AX = "#262626"

# the page body keeps its default 8px margin, so the figure is 8px smaller than the window
W, H = 1442, 1123

fig = go.Figure()

# top panel
for t, v, c in [(red_t, red_v, "#ff0000"), (black_t, black_v, "#000000"), (blue_t, blue_v, "#0000ff")]:
    fig.add_trace(go.Scatter(x=t, y=v, mode="lines", line=dict(color=c, width=2.2),
                             xaxis="x", yaxis="y", showlegend=False))
for lvl, c in zip(mean_levels, mean_colors):
    fig.add_trace(go.Scatter(x=[time_ticks[0], time_ticks[-1]], y=[lvl, lvl], mode="lines",
                             line=dict(color=c, width=2, dash="28px,17.5px"),
                             xaxis="x", yaxis="y", showlegend=False))

# middle panel
fig.add_trace(go.Scatter(x=spike_t, y=spike_n, mode="markers", marker=dict(color="black", size=5.5),
                         cliponaxis=False, xaxis="x2", yaxis="y2", showlegend=False))
fig.add_trace(go.Scatter(x=n50_spikes, y=[50] * len(n50_spikes), mode="markers",
                         marker=dict(color="#ff0000", size=14), cliponaxis=False,
                         xaxis="x2", yaxis="y2", showlegend=False))
fig.add_trace(go.Scatter(x=n1_spikes, y=[1] * len(n1_spikes), mode="markers",
                         marker=dict(color="#0000ff", size=14), cliponaxis=False,
                         xaxis="x2", yaxis="y2", showlegend=False))

# bottom panel
fig.add_trace(go.Scatter(x=v1_t, y=v1_v, mode="lines", line=dict(color="#0000ff", width=4),
                         cliponaxis=False, xaxis="x3", yaxis="y3", showlegend=False))
fig.add_trace(go.Scatter(x=v50_t, y=v50_v, mode="lines", line=dict(color="#ff0000", width=4),
                         cliponaxis=False, xaxis="x3", yaxis="y3", showlegend=False))

xdom = [158 / W, 1400 / W]
common = dict(showline=True, linecolor=AX, linewidth=1.5, ticks="inside", ticklen=13, tickwidth=1.5,
              tickcolor=AX, showgrid=False, zeroline=False, automargin=False,
              tickfont=dict(family=SANS, size=39, color=AX))


def ax(**kw):
    d = dict(common)
    d.update(kw)
    return d


fig.update_layout(
    width=W, height=H,
    paper_bgcolor="white", plot_bgcolor="white",
    margin=dict(l=0, r=0, t=0, b=0, autoexpand=False),
    xaxis=ax(domain=xdom, anchor="y", range=[0, 500], tickvals=time_ticks,
             ticktext=[str(v) for v in time_ticks], ticklabelstandoff=8),
    yaxis=ax(domain=[1 - 281.9 / H, 1 - 56.7 / H], anchor="x", range=[-42.5, 44.6], tickvals=top_yticks,
             ticktext=[str(v) for v in top_yticks], ticklabelstandoff=10),
    xaxis2=ax(domain=xdom, anchor="y2", range=[8.6, 500], tickvals=mid_xticks,
              ticktext=[str(v) for v in mid_xticks], mirror="ticks", ticklabelstandoff=8),
    yaxis2=ax(domain=[1 - 640.7 / H, 1 - 417.7 / H], anchor="x2", range=[1, 99], tickvals=mid_yticks,
              ticktext=[str(v) for v in mid_yticks], mirror="ticks", ticklabelstandoff=10),
    xaxis3=ax(domain=xdom, anchor="y3", range=[0, 500], tickvals=time_ticks,
              ticktext=[str(v) for v in time_ticks], ticklabelstandoff=8),
    yaxis3=ax(domain=[1 - 1000.7 / H, 1 - 776.85 / H], anchor="x3", range=[-97.3, 10], tickvals=bot_yticks,
              ticktext=[str(v) for v in bot_yticks], ticklabelstandoff=10),
)

xc = (xdom[0] + xdom[1]) / 2
title_font = dict(family=SANS, size=47, color="black", weight="bold")
label_font = dict(family=SANS, size=47, color=AX)
notes = [
    dict(text="Mean Synaptic Current across post-syn population", x=xc, y=1 - 24 / H, font=title_font),
    dict(text="Post-syn neruons spikes in the network", x=xc, y=1 - 384 / H, font=title_font),
    dict(text="Membrane Potential for Post-syn neuron 1 & neuron 50", x=xc, y=1 - 742.3 / H, font=title_font),
    dict(text="<i>Ī</i>(<i>mV</i>/<i>ms</i>)", x=38 / W, y=1 - 169 / H, textangle=-90,
         font=dict(family="Liberation Serif, DejaVu Serif, serif", size=57, color=AX)),
    dict(text="neuron index", x=61 / W, y=1 - 529 / H, textangle=-90, font=label_font),
    dict(text="V (mV)", x=44 / W, y=1 - 885 / H, textangle=-90, font=label_font),
    dict(text="time (ms)", x=xc, y=1 - 1097 / H, font=label_font),
]
for n in notes:
    fig.add_annotation(xref="paper", yref="paper", xanchor="center", yanchor="middle",
                       showarrow=False, **n)

fig.write_html("out.html")
